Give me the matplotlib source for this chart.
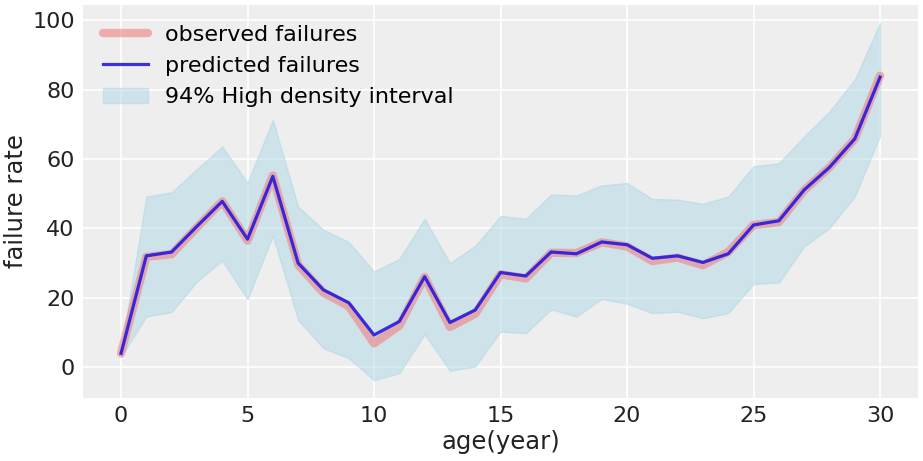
import matplotlib
matplotlib.use("Agg")
import matplotlib.pyplot as plt
import numpy as np

age = list(range(31))
observed = [4.0, 31.8, 32.6, 40.3, 47.8, 36.5, 55.2, 29.5, 21.5, 17.6, 6.9, 12.0, 26.0, 11.6, 15.4,
            26.8, 25.6, 33.0, 32.9, 36.0, 34.8, 30.6, 31.6, 29.4, 33.2, 41.0, 41.8, 51.0, 57.6, 65.8, 84.0]
predicted = [4.0, 32.1, 33.2, 40.6, 47.8, 36.9, 55.0, 30.0, 22.3, 18.6, 9.3, 13.2, 26.1, 12.9, 16.5,
             27.3, 26.3, 33.2, 32.7, 36.1, 35.3, 31.4, 32.1, 30.2, 32.7, 41.0, 42.2, 51.1, 57.6, 65.8, 83.6]
hdi_low = [3.0, 14.6, 15.9, 24.7, 30.7, 19.6, 37.9, 13.6, 5.5, 2.6, -3.7, -1.7, 9.5, -1.0, 0.2,
           10.3, 9.8, 16.7, 14.6, 19.7, 18.3, 15.6, 16.0, 14.1, 15.6, 24.0, 24.4, 34.8, 40.1, 49.2, 66.7]
hdi_high = [5.0, 49.2, 50.4, 57.1, 63.6, 53.2, 71.3, 46.3, 39.6, 36.1, 27.6, 31.2, 42.8, 30.0, 35.0,
            43.6, 42.8, 49.8, 49.5, 52.4, 53.1, 48.5, 48.3, 47.1, 49.2, 57.9, 58.8, 66.5, 73.7, 82.9, 99.2]

plt.rcParams['font.family'] = ['DejaVu Sans']
fig = plt.figure(figsize=(9.23, 4.61), dpi=100)
ax = fig.add_axes([0.09, 0.1367, 0.9046, 0.8523])
ax.set_facecolor('#eeeeee')
for s in ax.spines.values():
    s.set_visible(False)
ax.grid(True, color='white', linewidth=1.2)
ax.set_axisbelow(True)

ax.plot(age, observed, color='lightcoral', alpha=0.6, linewidth=6, solid_capstyle='round',
        label='observed failures')
ax.plot(age, predicted, color='#1a0fe0', alpha=0.85, linewidth=2.3, label='predicted failures')
ax.fill_between(age, hdi_low, hdi_high, color='lightblue', alpha=0.5,
                label='94% High density interval')

ax.set_xticks([0, 5, 10, 15, 20, 25, 30])
ax.set_yticks([0, 20, 40, 60, 80, 100])
ax.tick_params(axis='both', length=0, labelsize=16, colors='#222222', pad=6)
ax.set_xlabel('age(year)', fontsize=17.5, color='#222222', labelpad=3)
ax.set_ylabel('failure rate', fontsize=17.5, color='#222222', labelpad=3)
ax.legend(loc='upper left', frameon=False, fontsize=16)

fig.savefig('out.png', dpi=100)
